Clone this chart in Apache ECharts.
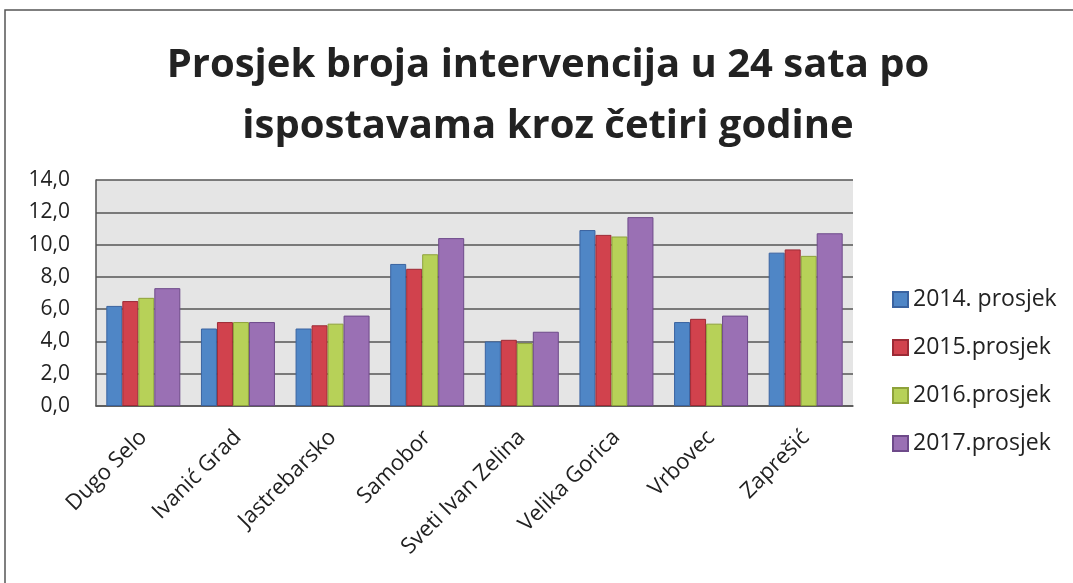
<!DOCTYPE html>
<html>
<head>
<meta charset="utf-8">
<script src="https://cdn.jsdelivr.net/npm/echarts@6/dist/echarts.min.js"></script>
<style>
  html, body { margin: 0; padding: 0; background: #fff; }
  #main { width: 1073px; height: 583px; }
</style>
</head>
<body>
<div id="main"></div>
<script>
// podaci
var ispostave = ['Dugo Selo', 'Ivanić Grad', 'Jastrebarsko', 'Samobor', 'Sveti Ivan Zelina', 'Velika Gorica', 'Vrbovec', 'Zaprešić'];
var godine = ['2014. prosjek', '2015.prosjek', '2016.prosjek', '2017.prosjek'];
var p2014 = [6.2, 4.8, 4.8, 8.8, 4.0, 10.9, 5.2, 9.5];
var p2015 = [6.5, 5.2, 5.0, 8.5, 4.1, 10.6, 5.4, 9.7];
var p2016 = [6.7, 5.2, 5.1, 9.4, 3.9, 10.5, 5.1, 9.3];
var p2017 = [7.3, 5.2, 5.6, 10.4, 4.6, 11.7, 5.6, 10.7];

var boje = ['#4f86c6', '#d1424d', '#b7d158', '#9a70b4'];
var rubovi = ['#3a63a0', '#9c2a35', '#8ea23a', '#6e4a8a'];
var sirine = [16, 16, 16, 26];

var chart = echarts.init(document.getElementById('main'));

var podaci = [p2014, p2015, p2016, p2017];
var series = godine.map(function (g, i) {
  return {
    name: g,
    type: 'bar',
    data: podaci[i],
    barWidth: sirine[i],
    barGap: '0%',
    itemStyle: {
      color: boje[i],
      borderColor: rubovi[i],
      borderWidth: 1
    }
  };
});

var option = {
  backgroundColor: '#fff',
  animation: false,
  title: {
    text: 'Prosjek broja intervencija u 24 sata po\nispostavama kroz četiri godine',
    left: 548,
    top: 35,
    padding: 0,
    textAlign: 'center',
    textStyle: {
      fontFamily: 'Open Sans',
      fontWeight: 'bold',
      fontSize: 40,
      lineHeight: 61,
      color: '#222'
    }
  },
  graphic: [{
    type: 'rect',
    shape: { x: 5, y: 10, width: 1200, height: 700 },
    style: { fill: null, stroke: '#555', lineWidth: 1.5 },
    silent: true
  }],
  legend: {
    orient: 'vertical',
    left: 887,
    top: 283,
    itemGap: 25,
    itemWidth: 15,
    itemHeight: 15,
    icon: 'rect',
    textStyle: { fontFamily: 'Open Sans', fontSize: 23, color: '#222' },
    data: godine
  },
  grid: {
    left: 96,
    top: 180,
    width: 757,
    height: 226,
    show: true,
    backgroundColor: '#e5e5e5',
    borderWidth: 0
  },
  xAxis: {
    type: 'category',
    data: ispostave,
    axisLine: { lineStyle: { color: '#555', width: 1.5 } },
    axisTick: { show: false },
    axisLabel: {
      rotate: 45,
      margin: 28,
      fontFamily: 'Open Sans',
      fontSize: 22,
      color: '#222'
    }
  },
  yAxis: {
    type: 'value',
    min: 0,
    max: 14,
    interval: 2,
    axisLine: { show: true, lineStyle: { color: '#555', width: 1.5 } },
    axisTick: { show: false },
    splitLine: { lineStyle: { color: '#555', width: 1.5 } },
    axisLabel: {
      margin: 26,
      fontFamily: 'Open Sans',
      fontSize: 21,
      color: '#222',
      formatter: function (v) { return v.toFixed(1).replace('.', ','); }
    }
  },
  series: series
};

chart.setOption(option);
</script>
</body>
</html>
